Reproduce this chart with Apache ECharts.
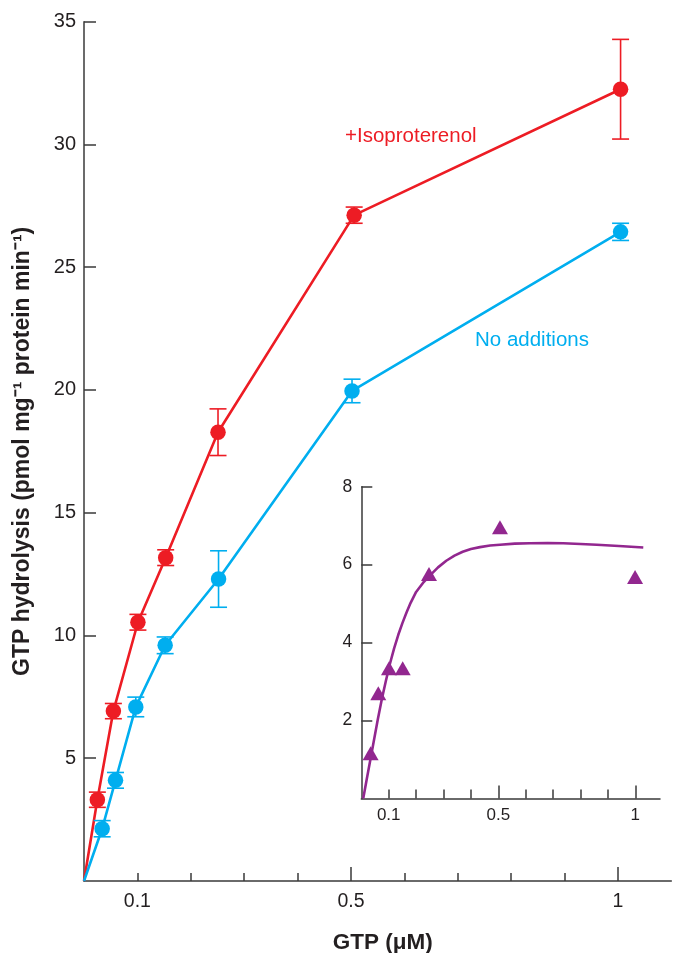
<!DOCTYPE html>
<html>
<head>
<meta charset="utf-8">
<script src="https://cdn.jsdelivr.net/npm/echarts@6/dist/echarts.min.js"></script>
<style>
html,body{margin:0;padding:0;background:#fff;}
#chart{width:673px;height:953px;}
</style>
</head>
<body>
<div id="chart"></div>
<script>
// ---- Data ----
const isoX   = [0.025, 0.055, 0.101, 0.153, 0.251, 0.506, 1.005];
const isoY   = [3.31, 6.92, 10.54, 13.17, 18.28, 27.12, 32.25];
const isoErr = [0.31, 0.31, 0.32, 0.32, 0.95, 0.33, 2.03];

const noneX   = [0.034, 0.059, 0.097, 0.152, 0.252, 0.502, 1.005];
const noneY   = [2.13, 4.10, 7.09, 9.60, 12.30, 19.96, 26.44];
const noneErr = [0.33, 0.32, 0.40, 0.34, 1.15, 0.48, 0.35];

// inset: difference (stimulated - basal)
const diffX = [0.034, 0.062, 0.101, 0.151, 0.247, 0.506, 0.999];
const diffY = [1.16, 2.70, 3.34, 3.34, 5.76, 6.96, 5.68];
// fitted curve
const fitX = [0.007, 0.02, 0.03, 0.045, 0.06, 0.075, 0.09, 0.105, 0.12, 0.135, 0.15, 0.165, 0.18, 0.20, 0.225, 0.25, 0.28, 0.31, 0.34, 0.37, 0.40, 0.433, 0.47, 0.506, 0.56, 0.616, 0.68, 0.737, 0.80, 0.859, 0.94, 1.029];
const fitY = [0.0, 0.50, 0.88, 1.45, 2.02, 2.55, 3.03, 3.47, 3.86, 4.20, 4.50, 4.77, 5.02, 5.30, 5.53, 5.72, 5.93, 6.10, 6.23, 6.33, 6.40, 6.45, 6.49, 6.51, 6.54, 6.55, 6.555, 6.55, 6.53, 6.51, 6.48, 6.44];

// tick values / labels
const mainYTicks = [5, 10, 15, 20, 25, 30, 35];
const insetYTicks = [2, 4, 6, 8];
const xMinorTicks = [0.1, 0.2, 0.3, 0.4, 0.6, 0.7, 0.8, 0.9];
const xMajorTicks = [0.5, 1];
const xTickLabels = [0.1, 0.5, 1];

const RED = '#ed1c24', BLUE = '#00aeef', PURPLE = '#92278f';
const AX = '#3a3a3a', TXT = '#231f20';
const FONT = '"Liberation Sans", Arial, Helvetica, sans-serif';

function pairs(xs, ys) { return xs.map((x, i) => [x, ys[i]]); }
function errData(xs, ys, es) { return xs.map((x, i) => [x, ys[i] - es[i], ys[i] + es[i]]); }

function errSeries(data, color) {
  return {
    type: 'custom', xAxisIndex: 0, yAxisIndex: 0, z: 3,
    data: data,
    renderItem: function (params, api) {
      const x = api.value(0), lo = api.value(1), hi = api.value(2);
      const pt = api.coord([x, hi]), pb = api.coord([x, lo]);
      const w = 8.5;
      const st = { stroke: color, lineWidth: 1.6 };
      return {
        type: 'group', children: [
          { type: 'line', shape: { x1: pt[0], y1: pt[1], x2: pb[0], y2: pb[1] }, style: st },
          { type: 'line', shape: { x1: pt[0] - w, y1: pt[1], x2: pt[0] + w, y2: pt[1] }, style: st },
          { type: 'line', shape: { x1: pb[0] - w, y1: pb[1], x2: pb[0] + w, y2: pb[1] }, style: st }
        ]
      };
    }
  };
}

const chart = echarts.init(document.getElementById('chart'), null, { renderer: 'canvas' });

const option = {
  animation: false,
  backgroundColor: '#fff',
  textStyle: { fontFamily: FONT },
  grid: [
    { left: 84, top: 21.7, width: 587.3, bottom: 72, containLabel: false, outerBoundsMode: 'none' },
    { left: 361.3, top: 486.7, width: 298.7, height: 311.8, containLabel: false, outerBoundsMode: 'none' }
  ],
  xAxis: [
    {
      gridIndex: 0, type: 'value', position: 'bottom', min: 0, max: 1.1,
      axisLine: { show: true, lineStyle: { color: AX, width: 1.5 } },
      axisTick: { show: true, inside: true, length: 8, customValues: xMinorTicks, lineStyle: { color: AX, width: 1.5 } },
      axisLabel: { show: true, customValues: xTickLabels, color: TXT, fontSize: 19.5, margin: 11, fontFamily: FONT, formatter: v => String(v) },
      splitLine: { show: false },
      name: 'GTP (μM)', nameLocation: 'middle', nameGap: 50,
      nameTextStyle: { color: TXT, fontSize: 22.5, fontWeight: 'bold', fontFamily: FONT, padding: [0, 0, 0, 10] }
    },
    {
      gridIndex: 0, type: 'value', position: 'bottom', min: 0, max: 1.1, offset: 0,
      axisLine: { show: false },
      axisTick: { show: true, inside: true, length: 14, customValues: xMajorTicks, lineStyle: { color: AX, width: 1.5 } },
      axisLabel: { show: false },
      splitLine: { show: false }
    },
    {
      gridIndex: 1, type: 'value', position: 'bottom', min: 0, max: 1.09,
      axisLine: { show: true, lineStyle: { color: AX, width: 1.5 } },
      axisTick: { show: true, inside: true, length: 9, customValues: xMinorTicks, lineStyle: { color: AX, width: 1.5 } },
      axisLabel: { show: true, customValues: xTickLabels, color: TXT, fontSize: 17, margin: 8, fontFamily: FONT, formatter: v => String(v) },
      splitLine: { show: false }
    },
    {
      gridIndex: 1, type: 'value', position: 'bottom', min: 0, max: 1.09, offset: 0,
      axisLine: { show: false },
      axisTick: { show: true, inside: true, length: 13, customValues: xMajorTicks, lineStyle: { color: AX, width: 1.5 } },
      axisLabel: { show: false },
      splitLine: { show: false }
    }
  ],
  yAxis: [
    {
      gridIndex: 0, type: 'value', min: 0, max: 35,
      axisLine: { show: true, lineStyle: { color: AX, width: 1.5 } },
      axisTick: { show: true, inside: true, length: 12, customValues: mainYTicks, lineStyle: { color: AX, width: 1.5 } },
      axisLabel: { show: true, customValues: mainYTicks, color: TXT, fontSize: 20, margin: 8, fontFamily: FONT, formatter: v => String(v) },
      splitLine: { show: false },
      name: 'GTP hydrolysis (pmol mg⁻¹ protein min⁻¹)', nameLocation: 'middle', nameGap: 50, nameRotate: 90,
      nameTextStyle: { color: TXT, fontSize: 23, fontWeight: 'bold', fontFamily: FONT }
    },
    {
      gridIndex: 1, type: 'value', min: 0, max: 8,
      axisLine: { show: true, lineStyle: { color: AX, width: 1.5 } },
      axisTick: { show: true, inside: true, length: 11, customValues: insetYTicks, lineStyle: { color: AX, width: 1.5 } },
      axisLabel: { show: true, customValues: insetYTicks, color: TXT, fontSize: 17.5, margin: 9, fontFamily: FONT, formatter: v => String(v) },
      splitLine: { show: false }
    }
  ],
  series: [
    {
      type: 'line', xAxisIndex: 0, yAxisIndex: 0, z: 2,
      data: [[0, 0]].concat(pairs(isoX, isoY)), symbol: 'none',
      lineStyle: { color: RED, width: 2.6 }
    },
    {
      type: 'line', xAxisIndex: 0, yAxisIndex: 0, z: 2,
      data: [[0, 0]].concat(pairs(noneX, noneY)), symbol: 'none',
      lineStyle: { color: BLUE, width: 2.6 }
    },
    errSeries(errData(isoX, isoY, isoErr), RED),
    errSeries(errData(noneX, noneY, noneErr), BLUE),
    {
      type: 'scatter', xAxisIndex: 0, yAxisIndex: 0, z: 4,
      data: pairs(isoX, isoY), symbol: 'circle', symbolSize: 15.5,
      itemStyle: { color: RED, opacity: 1 }
    },
    {
      type: 'scatter', xAxisIndex: 0, yAxisIndex: 0, z: 4,
      data: pairs(noneX, noneY), symbol: 'circle', symbolSize: 15.5,
      itemStyle: { color: BLUE, opacity: 1 }
    },
    {
      type: 'line', xAxisIndex: 2, yAxisIndex: 1, z: 2,
      data: pairs(fitX, fitY), symbol: 'none', smooth: false,
      lineStyle: { color: PURPLE, width: 2.6, join: 'round' }
    },
    {
      type: 'scatter', xAxisIndex: 2, yAxisIndex: 1, z: 4,
      data: pairs(diffX, diffY), symbol: 'triangle', symbolSize: [16, 14],
      itemStyle: { color: PURPLE, opacity: 1 }
    }
  ],
  graphic: [
    { type: 'text', left: 345, top: 126, style: { text: '+Isoproterenol', fill: RED, font: '20.5px ' + FONT } },
    { type: 'text', left: 475, top: 330, style: { text: 'No additions', fill: BLUE, font: '20.5px ' + FONT } }
  ]
};
chart.setOption(option);
</script>
</body>
</html>
